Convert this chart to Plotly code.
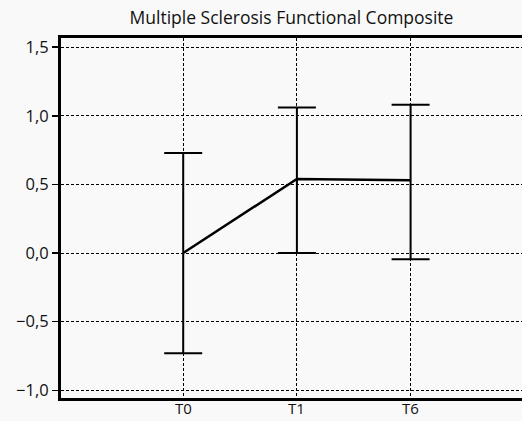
import plotly.graph_objects as go

categories = ["T0", "T1", "T6"]
means = [0.0, 0.54, 0.53]
upper = [0.73, 1.06, 1.08]
lower = [-0.73, 0.0, -0.045]
y_ticks = [-1.0, -0.5, 0.0, 0.5, 1.0, 1.5]
title = "Multiple Sclerosis Functional Composite"

err_plus = [u - m for u, m in zip(upper, means)]
err_minus = [m - l for m, l in zip(means, lower)]
xpos = list(range(len(categories)))

fig = go.Figure()
fig.add_trace(go.Scatter(
    x=xpos, y=means, mode="lines",
    line=dict(color="black", width=2.5),
    error_y=dict(type="data", symmetric=False, array=err_plus, arrayminus=err_minus,
                 color="black", thickness=2, width=19),
    showlegend=False, hoverinfo="skip",
))

font_family = "Open Sans, Noto Sans, sans-serif"
bg = "#f9f9f9"
fig.update_layout(
    width=522, height=421,
    margin=dict(l=61, r=0, t=38, b=23),
    paper_bgcolor=bg, plot_bgcolor=bg,
    separators=",.",
    font=dict(family=font_family, size=16.5, color="#111"),
    title=dict(text=title, x=0.5, xanchor="center", xref="paper", y=0.958, yanchor="middle",
               font=dict(size=17.5, family=font_family, color="#111")),
)
for xp, lab in zip(xpos, categories):
    fig.add_annotation(
        x=xp, xref="x", y=0, yref="paper", yanchor="top", xanchor="center",
        text=lab, showarrow=False, yshift=1, borderpad=0,
        font=dict(size=15, family=font_family, color="#111"),
    )
fig.update_xaxes(
    range=[-1.075, 2.98], automargin=False,
    tickmode="array", tickvals=xpos, ticktext=categories, showticklabels=False,
    showgrid=True, gridcolor="black", gridwidth=1, griddash="3px,2px",
    showline=True, linecolor="black", linewidth=3, mirror=True,
    ticks="", zeroline=False,
)
fig.update_yaxes(
    range=[-1.056, 1.567], automargin=False,
    tickmode="array", tickvals=y_ticks, tickformat=".1f",
    showgrid=True, gridcolor="black", gridwidth=1, griddash="3px,2px",
    showline=True, linecolor="black", linewidth=3, mirror=False,
    ticks="outside", ticklen=6, tickwidth=1.5, tickcolor="black",
    zeroline=False,
)
fig.write_html(
    "out.html",
    config={"displayModeBar": False, "staticPlot": True},
    post_script="document.body.style.margin='0';document.body.style.overflow='hidden';"
                "document.body.style.background='" + bg + "';",
)
